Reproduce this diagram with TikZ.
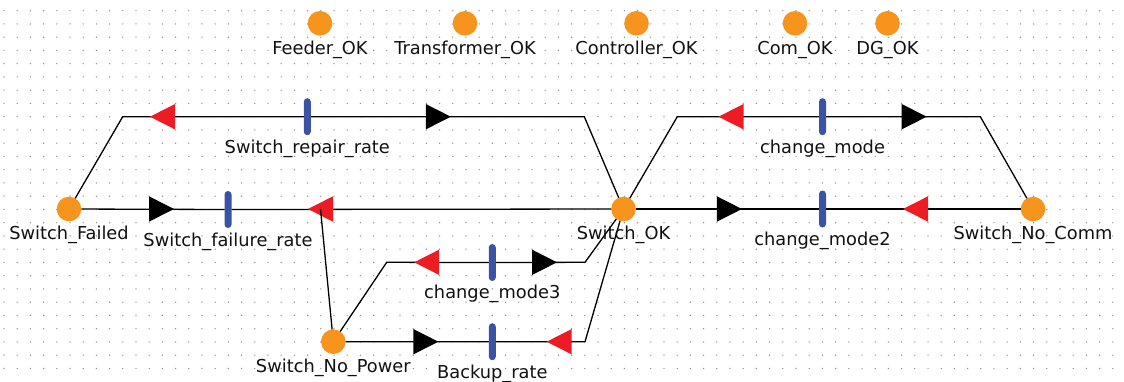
\documentclass[tikz,border=0pt]{standalone}
\usepackage{fontspec}
\setmainfont{DejaVu Sans}
\usetikzlibrary{positioning}
\definecolor{plorange}{HTML}{F7941D}
\definecolor{trblue}{HTML}{3A53A4}
\definecolor{tipred}{HTML}{ED1C24}
\definecolor{dotgray}{HTML}{8C8C8C}
\definecolor{txtc}{HTML}{111111}

\begin{document}
\begin{tikzpicture}[x=0.5pt,y=-0.5pt,
    place/.style={circle,fill=plorange,minimum size=12.3pt,inner sep=0pt,outer sep=0pt},
    trans/.style={rectangle,rounded corners=1.75pt,fill=trblue,minimum width=3.5pt,minimum height=18.5pt,inner sep=0pt,outer sep=0pt},
    lbl/.style={font=\fontsize{8.9}{10}\selectfont,text=txtc,text height=6.5pt,text depth=1.6pt,inner sep=0pt},
    arc/.style={draw=black,line width=0.65pt},
    redtip/.pic={\fill[tipred] (-12.5,-12.7) -- (12.5,0) -- (-12.5,12.7) -- cycle; \coordinate (-c) at (0,0);},
    blacktip/.pic={\fill[black] (-12.5,-12.7) -- (12.5,0) -- (-12.5,12.7) -- cycle; \coordinate (-c) at (0,0);}]

    \useasboundingbox (0,0) rectangle (1124,381);
    \foreach \i in {0,...,84}
      \foreach \j in {0,...,27}
        \fill[dotgray] ({4+13.2*\i},{10.7+13.25*\j}) circle (0.36pt); % grid

    % places
    \node[place] (FOK) at (320,23.3) {};
    \node[place] (TOK) at (465,23.3) {};
    \node[place] (COK) at (636.5,23.3) {};
    \node[place] (CmOK) at (795,23.3) {};
    \node[place] (DGOK) at (887.5,23.3) {};
    \node[place] (SF) at (69,209) {};
    \node[place] (SOK) at (623.5,209) {};
    \node[place] (SNC) at (1033,209) {};
    \node[place] (SNP) at (333.3,341.7) {};

    % transitions
    \node[trans] (trRepair) at (307.3,116.7) {};
    \node[trans] (trFail) at (228,209.5) {};
    \node[trans] (trMode) at (822.5,116.7) {};
    \node[trans] (trModeB) at (822.5,209) {};
    \node[trans] (trModeC) at (492.3,262.5) {};
    \node[trans] (trBackup) at (492.3,341.7) {};

    % corners
    \coordinate (c1) at (122.7,116.7);
    \coordinate (c2) at (584.3,116.7);
    \coordinate (c3) at (677.3,116.7);
    \coordinate (c4) at (980.3,116.7);
    \coordinate (c5) at (386.7,262.3);
    \coordinate (c6) at (585,262.3);
    \coordinate (c7) at (585,341.7);

    % arcs
    \draw[arc] (SF) -- (c1) -- (trRepair) -- (c2) -- (SOK);
    \draw[arc] (SF) -- (trFail) -- (SOK);
    \draw[arc] (SOK) -- (trModeB) -- (SNC);
    \draw[arc] (SOK) -- (c3) -- (trMode) -- (c4) -- (SNC);
    \draw[arc] (SNP) -- (c5) -- (trModeC) -- (c6) -- (SOK);
    \draw[arc] (SNP) -- (trBackup) -- (c7) -- (SOK);

    % arrow heads
    \pic[rotate=180] at (162.5,116.7) {redtip};
    \pic at (438.3,116.7) {blacktip};
    \pic at (161.5,209) {blacktip};
    \pic[rotate=180] (aF) at (320.5,209) {redtip};
    \pic at (729.4,209) {blacktip};
    \pic[rotate=180] at (915.5,209) {redtip};
    \pic[rotate=180] at (731,116.7) {redtip};
    \pic at (914.2,116.7) {blacktip};
    \pic[rotate=180] at (426.7,262.3) {redtip};
    \pic at (544.5,262.3) {blacktip};
    \pic at (425.8,341.7) {blacktip};
    \pic[rotate=180] at (559.2,341.7) {redtip};

    \draw[arc] (aF-c) -- (SNP);

    % labels
    \node[lbl,below=2.6pt of FOK] (FOKl) {Feeder\_OK};
    \node[lbl,below=2.6pt of TOK] (TOKl) {Transformer\_OK};
    \node[lbl,below=2.6pt of COK] (COKl) {Controller\_OK};
    \node[lbl,below=2.6pt of CmOK] (CmOKl) {Com\_OK};
    \node[lbl,below=2.6pt of DGOK] (DGOKl) {DG\_OK};
    \node[lbl,below=2.5pt of SF] (SFl) {Switch\_Failed};
    \node[lbl,below=2.5pt of SOK] (SOKl) {Switch\_OK};
    \node[lbl,below=2.5pt of SNC] (SNCl) {Switch\_No\_Comm};
    \node[lbl,below=2.3pt of SNP] (SNPl) {Switch\_No\_Power};
    \node[lbl,below=2.5pt of trRepair] (trRepairl) {Switch\_repair\_rate};
    \node[lbl,below=2.3pt of trFail] (trFaill) {Switch\_failure\_rate};
    \node[lbl,below=2.5pt of trMode] (trModel) {change\_mode};
    \node[lbl,below=2.3pt of trModeB] (trModeBl) {change\_mode2};
    \node[lbl,below=2.1pt of trModeC] (trModeCl) {change\_mode3};
    \node[lbl,below=2.5pt of trBackup] (trBackupl) {Backup\_rate};

  \end{tikzpicture}
\end{document}
